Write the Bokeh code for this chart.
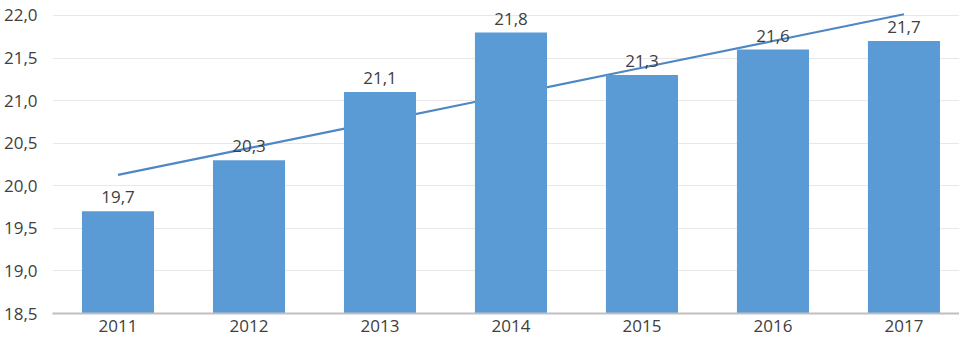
import numpy as np
from bokeh.plotting import figure
from bokeh.models import Range1d, FixedTicker, ColumnDataSource
from bokeh.core.properties import value
from bokeh.embed import file_html
from bokeh.resources import INLINE

years = ["2011", "2012", "2013", "2014", "2015", "2016", "2017"]
values = [19.7, 20.3, 21.1, 21.8, 21.3, 21.6, 21.7]
value_labels = ["19,7", "20,3", "21,1", "21,8", "21,3", "21,6", "21,7"]
y_ticks = [18.5, 19.0, 19.5, 20.0, 20.5, 21.0, 21.5, 22.0]
y_tick_labels = ["18,5", "19,0", "19,5", "20,0", "20,5", "21,0", "21,5", "22,0"]

FONT = "Open Sans"
BLUE = "#5B9BD5"
TREND = "#4F87C4"
TXT = "#404040"

xpos = list(range(len(years)))

# linear trend line (least squares over the series)
xi = np.arange(1, len(values) + 1)
slope, intercept = np.polyfit(xi, values, 1)
trend = list(slope * xi + intercept)

p = figure(width=959, height=344, output_backend="svg", toolbar_location=None,
           x_range=Range1d(-0.5, 6.424),
           y_range=Range1d(18.5, 22.176),
           min_border_left=52, min_border_right=0, min_border_top=0, min_border_bottom=31)
p.outline_line_color = None
p.background_fill_color = "white"
p.border_fill_color = "white"

src = ColumnDataSource(dict(x=xpos, top=values, lab=value_labels, trend=trend))
# trend line lies behind the bars, as in the reference
p.line(x="x", y="trend", line_color=TREND, line_width=2.2, source=src)
p.vbar(x="x", top="top", bottom=18.5, width=0.55, fill_color=BLUE, line_color=None, source=src)
p.text(x="x", y="top", text="lab", source=src, text_align="center", text_baseline="alphabetic",
       y_offset=-14, text_font=value(FONT), text_font_size="17px", text_color=TXT)

p.yaxis.ticker = FixedTicker(ticks=y_ticks)
p.yaxis.major_label_overrides = {t: l for t, l in zip(y_ticks, y_tick_labels)}
p.yaxis.axis_line_color = None
p.yaxis.major_tick_line_color = None
p.yaxis.minor_tick_line_color = None
p.yaxis.major_tick_out = 0
p.yaxis.major_label_standoff = 15
p.yaxis.major_label_text_font = FONT
p.yaxis.major_label_text_font_size = "17px"
p.yaxis.major_label_text_color = TXT

p.xaxis.ticker = FixedTicker(ticks=xpos)
p.xaxis.major_label_overrides = {i: y for i, y in zip(xpos, years)}
p.xaxis.axis_line_color = "#BFBFBF"
p.xaxis.axis_line_width = 2
p.xaxis.major_tick_line_color = None
p.xaxis.minor_tick_line_color = None
p.xaxis.major_tick_out = 0
p.xaxis.major_label_standoff = 6
p.xaxis.major_label_text_font = FONT
p.xaxis.major_label_text_font_size = "17px"
p.xaxis.major_label_text_color = TXT

p.xgrid.grid_line_color = None
p.ygrid.grid_line_color = "#E8E8E8"
p.ygrid.grid_line_width = 1

open("out.html", "w").write(file_html(p, INLINE))
